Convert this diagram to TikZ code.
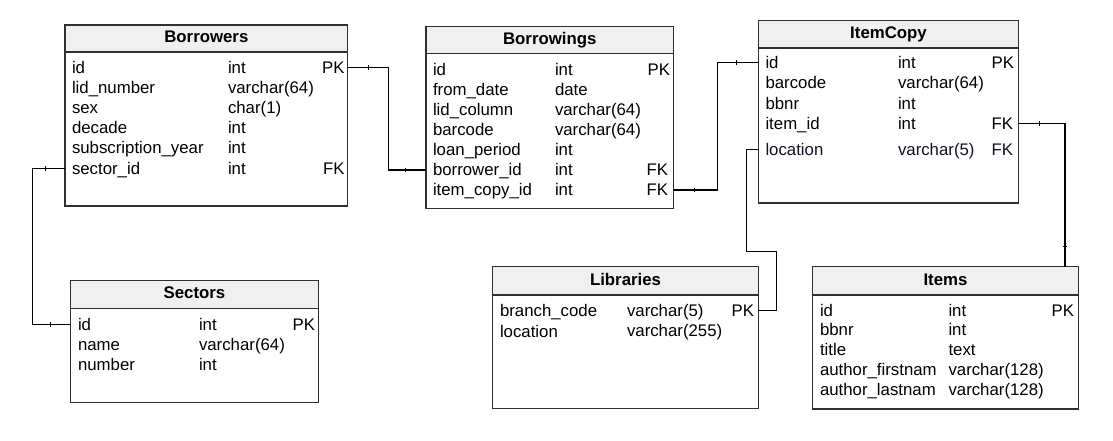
\documentclass[tikz,border=0pt]{standalone}
\usepackage{fontspec}
\setmainfont{Liberation Sans}
\usetikzlibrary{calc}
\definecolor{hdrfill}{HTML}{F0F0F0}
\definecolor{boxline}{HTML}{303030}
\definecolor{navytext}{HTML}{10102A}
\tikzset{
  tblhead/.style={draw=boxline, line width=1.2pt, fill=hdrfill, anchor=north west,
    inner sep=0pt, outer sep=0pt, text height=12.2pt, text depth=3.6pt,
    font=\fontsize{16.8}{20}\selectfont\bfseries},
  tblbody/.style={draw=boxline, line width=1.2pt, fill=white, anchor=north west,
    inner sep=0pt, outer sep=0pt},
  fld/.style={anchor=base west, inner sep=0pt, outer sep=0pt, font=\fontsize{16.8}{20}\selectfont},
  keyf/.style={anchor=base east, inner sep=0pt, outer sep=0pt, font=\fontsize{16.8}{20}\selectfont},
  conn/.style={line width=1.1pt, black},
  tickmark/.style={line width=0.9pt, black},
}
\begin{document}
\begin{tikzpicture}[x=1pt, y=-1pt]
\useasboundingbox (0,0) rectangle (1113,440);

% ---------------- Borrowers ----------------
\node[tblhead, minimum width=282.7pt, minimum height=27pt] (borh) at (65,25) {Borrowers};
\node[tblbody, minimum width=282.7pt, minimum height=154pt] (borb) at (borh.south west) {};
\node[fld] (bor1) at (72,73) {id};
\node[fld] (bor1t) at (228,73) {int};
\node[keyf] (borpk) at (344.5,73) {PK};
\node[fld] (bor2) at (72,93.2) {lid\_number};
\node[fld] (bor2t) at (228,93.2) {varchar(64)};
\node[fld] (bor3) at (72,113.4) {sex};
\node[fld] (bor3t) at (228,113.4) {char(1)};
\node[fld] (bor4) at (72,133.6) {decade};
\node[fld] (bor4t) at (228,133.6) {int};
\node[fld] (bor5) at (72,153.8) {subscription\_year};
\node[fld] (bor5t) at (228,153.8) {int};
\node[fld] (bor6) at (72,174) {sector\_id};
\node[fld] (bor6t) at (228,174) {int};
\node[keyf] (borfk) at (344.5,174) {FK};

% ---------------- Borrowings ----------------
\node[tblhead, minimum width=247.5pt, minimum height=26.5pt] (bwsh) at (426,26.7) {Borrowings};
\node[tblbody, minimum width=247.5pt, minimum height=155pt] (bwsb) at (bwsh.south west) {};
\node[fld] (bws1) at (433,75) {id};
\node[fld] (bws1t) at (555,75) {int};
\node[keyf] (bwspk) at (670,75) {PK};
\node[fld] (bws2) at (433,95.1) {from\_date};
\node[fld] (bws2t) at (555,95.1) {date};
\node[fld] (bws3) at (433,115.2) {lid\_column};
\node[fld] (bws3t) at (555,115.2) {varchar(64)};
\node[fld] (bws4) at (433,135.3) {barcode};
\node[fld] (bws4t) at (555,135.3) {varchar(64)};
\node[fld] (bws5) at (433,155.4) {loan\_period};
\node[fld] (bws5t) at (555,155.4) {int};
\node[fld] (bws6) at (433,175.8) {borrower\_id};
\node[fld] (bws6t) at (555,175.8) {int};
\node[keyf] (bwsfkA) at (668,175.8) {FK};
\node[fld] (bws7) at (433,195.8) {item\_copy\_id};
\node[fld] (bws7t) at (555,195.8) {int};
\node[keyf] (bwsfkB) at (668,195.8) {FK};

% ---------------- ItemCopy ----------------
\node[tblhead, minimum width=260.4pt, minimum height=27.3pt] (ich) at (758.3,20.7) {ItemCopy};
\node[tblbody, minimum width=260.4pt, minimum height=155pt] (icb) at (ich.south west) {};
\node[fld] (ic1) at (765.5,68.4) {id};
\node[fld] (ic1t) at (898,68.4) {int};
\node[keyf] (icpk) at (1014,68.4) {PK};
\node[fld] (ic2) at (765.5,88.7) {barcode};
\node[fld] (ic2t) at (898,88.7) {varchar(64)};
\node[fld] (ic3) at (765.5,109) {bbnr};
\node[fld] (ic3t) at (898,109) {int};
\node[fld] (ic4) at (765.5,129.3) {item\_id};
\node[fld] (ic4t) at (898,129.3) {int};
\node[keyf] (icfkA) at (1013,129.3) {FK};
\node[fld, text=navytext] (ic5) at (765.5,155.3) {location};
\node[fld, text=navytext] (ic5t) at (898,155.3) {varchar(5)};
\node[keyf, text=navytext] (icfkB) at (1013,155.3) {FK};

% ---------------- Sectors ----------------
\node[tblhead, minimum width=247.6pt, minimum height=27.8pt] (sech) at (70.7,280.7) {Sectors};
\node[tblbody, minimum width=247.6pt, minimum height=94.2pt] (secb) at (sech.south west) {};
\node[fld] (sec1) at (78,330.2) {id};
\node[fld] (sec1t) at (199,330.2) {int};
\node[keyf] (secpk) at (315,330.2) {PK};
\node[fld] (sec2) at (78,350.5) {name};
\node[fld] (sec2t) at (199,350.5) {varchar(64)};
\node[fld] (sec3) at (78,370.5) {number};
\node[fld] (sec3t) at (199,370.5) {int};

% ---------------- Libraries ----------------
\node[tblhead, minimum width=265.6pt, minimum height=28.3pt] (libh) at (492.7,266.7) {Libraries};
\node[tblbody, minimum width=265.6pt, minimum height=113.5pt] (libb) at (libh.south west) {};
\node[fld] (lib1) at (500,316) {branch\_code};
\node[fld] (lib1t) at (627,316) {varchar(5)};
\node[keyf] (libpk) at (754,316) {PK};
\node[fld] (lib2) at (500,337) {location};
\node[fld] (lib2t) at (627,336) {varchar(255)};

% ---------------- Items ----------------
\node[tblhead, minimum width=265.6pt, minimum height=28.3pt] (itmh) at (812.7,266.7) {Items};
\node[tblbody, minimum width=265.6pt, minimum height=114pt] (itmb) at (itmh.south west) {};
\node[fld] (itm1) at (820,316) {id};
\node[fld] (itm1t) at (948.5,316) {int};
\node[keyf] (itmpk) at (1074,316) {PK};
\node[fld] (itm2) at (820,335.8) {bbnr};
\node[fld] (itm2t) at (948.5,335.8) {int};
\node[fld] (itm3) at (820,355.6) {title};
\node[fld] (itm3t) at (948.5,355.6) {text};
\node[fld] (itm4) at (820,375.4) {author\_firstnam};
\node[fld] (itm4t) at (948.5,375.4) {varchar(128)};
\node[fld] (itm5) at (820,395.2) {author\_lastnam};
\node[fld] (itm5t) at (948.5,395.2) {varchar(128)};

% ---------------- Connectors ----------------
\draw[conn] (borb.east |- borpk) -- ++(40.5,0) |- (bwsb.west |- bwsfkA);
\draw[conn] (bwsb.east |- bwsfkB) -- ++(44,0) |- (icb.west |- icpk);
\draw[conn] (icb.west |- icfkB) -- ++(-11.6,0) -- ++(0,101.7) -- ++(30,0) |- (libb.east |- libpk);
\draw[conn] (icb.east |- icfkA) -| ($(itmh.north east)+(-13.3,0)$);
\draw[conn] (borb.west |- borfk) -- ++(-32.7,0) |- (secb.west |- secpk);

% ---------------- Tick marks ----------------
\draw[tickmark] ($(borb.east |- borpk)+(20.5,0)$) +(0,-2.3) -- +(0,2.3);
\draw[tickmark] ($(bwsb.west |- bwsfkA)+(-21,0)$) +(0,-2.3) -- +(0,2.3);
\draw[tickmark] ($(bwsb.east |- bwsfkB)+(21,0)$) +(0,-2.3) -- +(0,2.3);
\draw[tickmark] ($(icb.west |- icpk)+(-21.5,0)$) +(0,-2.3) -- +(0,2.3);
\draw[tickmark] ($(icb.east |- icfkA)+(20.5,0)$) +(0,-2.3) -- +(0,2.3);
\draw[tickmark] ($(itmh.north east)+(-13.3,-20.5)$) +(-2.3,0) -- +(2.3,0);
\draw[tickmark] ($(borb.west |- borfk)+(-20,0)$) +(0,-2.3) -- +(0,2.3);
\draw[tickmark] ($(secb.west |- secpk)+(-20.7,0)$) +(0,-2.3) -- +(0,2.3);
\end{tikzpicture}
\end{document}
